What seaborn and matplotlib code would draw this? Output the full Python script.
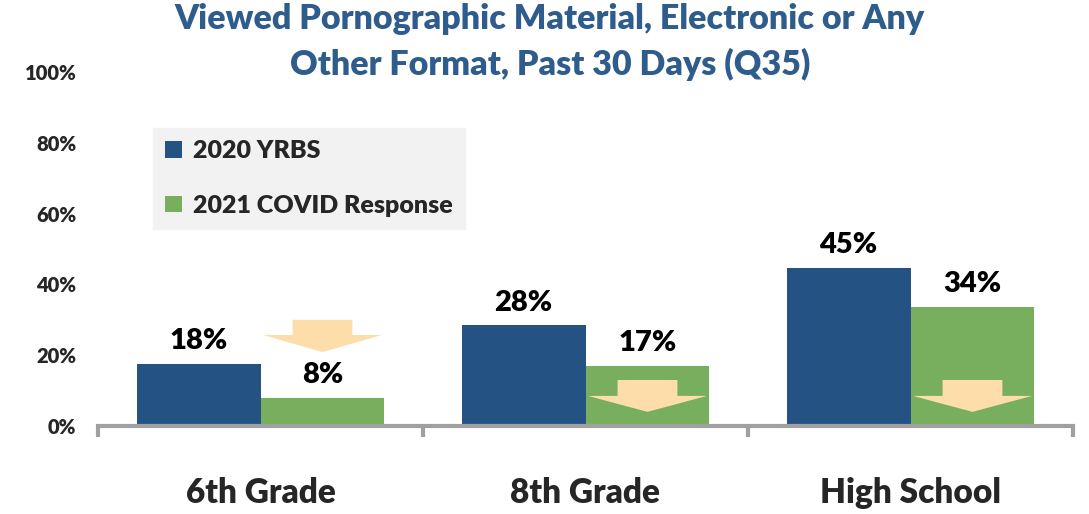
import matplotlib
matplotlib.use("Agg")
import matplotlib.pyplot as plt
import seaborn as sns
import pandas as pd
from matplotlib.patches import Polygon

categories = ["6th Grade", "8th Grade", "High School"]
series_names = ["2020 YRBS", "2021 COVID Response"]
yrbs_2020 = [18, 28, 45]
covid_2021 = [8, 17, 34]
bar_tops_2020 = [17.6, 28.4, 44.7]
bar_tops_2021 = [7.9, 17.0, 33.6]
ytick_values = [0, 20, 40, 60, 80, 100]
ytick_labels = ["0%", "20%", "40%", "60%", "80%", "100%"]
title = "Viewed Pornographic Material, Electronic or Any\nOther Format, Past 30 Days (Q35)"

sns.set_style("white")
plt.rcParams["font.family"] = ["Lato", "DejaVu Sans"]
W = 800

df = pd.DataFrame({
    "cat": categories * 2,
    "series": [series_names[0]] * 3 + [series_names[1]] * 3,
    "val": bar_tops_2020 + bar_tops_2021,
})

fig = plt.figure(figsize=(10.89, 5.14), dpi=100)
ax = fig.add_axes([98 / 1089, 88 / 514, 975 / 1089, 354 / 514])

blue = "#245283"
green = "#78AF5F"
sns.barplot(data=df, x="cat", y="val", hue="series", order=categories,
            hue_order=series_names, palette=[blue, green], width=0.763,
            ax=ax, saturation=1, legend=True, linewidth=0)

ax.set_xlim(-0.5, 2.5)
ax.set_ylim(0, 100)
ax.set_xlabel("")
ax.set_ylabel("")
ax.set_yticks(ytick_values)
ax.set_yticklabels(ytick_labels, fontsize=14.5, fontweight=W)
ax.tick_params(axis="y", length=0, pad=15.5)
ax.set_xticks([0, 1, 2])
ax.set_xticklabels(categories, fontsize=24, fontweight=W)
ax.tick_params(axis="x", which="major", length=0, pad=37)
ax.set_xticks([-0.5, 0.5, 1.5, 2.5], minor=True)
ax.tick_params(axis="x", which="minor", bottom=True, length=8, width=3,
               color="#A0A0A0", direction="out")
for s in ["top", "right", "left"]:
    ax.spines[s].set_visible(False)
ax.spines["bottom"].set_color("#A0A0A0")
ax.spines["bottom"].set_linewidth(3)

# data labels
for cont, vals in zip(ax.containers, [yrbs_2020, covid_2021]):
    ax.bar_label(cont, labels=[f"{v}%" for v in vals], padding=7,
                 fontsize=21, fontweight=W, color="black")

# arrows (downward block arrows)
arrow_color = "#FDDDAA"
bar_half = 0.763 / 4
arrows = [(0 + bar_half, 30, 25.7, 20.9), (1 + bar_half, 13, 8.5, 4.0), (2 + bar_half, 13, 8.5, 4.0)]
for cx, top, base, tip in arrows:
    sw, hw = 0.092, 0.183
    pts = [(cx - sw, top), (cx + sw, top), (cx + sw, base), (cx + hw, base),
           (cx, tip), (cx - hw, base), (cx - sw, base)]
    ax.add_patch(Polygon(pts, closed=True, facecolor=arrow_color, edgecolor="none", zorder=5))

# legend
leg = ax.legend(loc="upper left", bbox_to_anchor=(0.0564, 0.842), frameon=True,
                fancybox=False, facecolor="#F2F2F2", edgecolor="#F2F2F2",
                prop={"weight": W, "size": 18}, handlelength=0.65,
                handleheight=0.65, handletextpad=0.45, labelspacing=1.3,
                borderpad=0.5, borderaxespad=0, framealpha=1)

fig.text(0.505, 0.995, title, ha="center", va="top", fontsize=24.5,
         fontweight=W, color="#2E5C8C", linespacing=1.5)

fig.savefig("out.png", dpi=100)
